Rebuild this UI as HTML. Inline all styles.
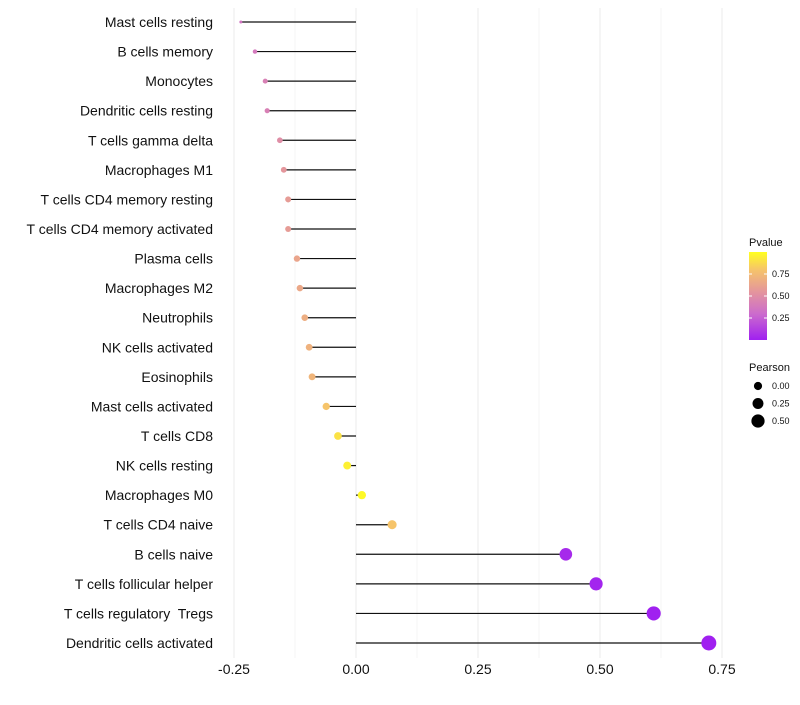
<!DOCTYPE html>
<html><head><meta charset="utf-8"><style>
body{margin:0;background:#fff;font-family:"Liberation Sans",sans-serif}
</style></head><body>
<svg id="c" width="800" height="700" style="font-family:'Liberation Sans',sans-serif">
<defs><linearGradient id="pg" x1="0" y1="1" x2="0" y2="0">
<stop offset="0" stop-color="#a020f0"/><stop offset="0.3" stop-color="#cc6ccc"/><stop offset="0.55" stop-color="#e4969c"/><stop offset="0.8" stop-color="#f6c46a"/><stop offset="1" stop-color="#ffff20"/></linearGradient></defs>
</svg>
<script>
const categories=["Mast cells resting","B cells memory","Monocytes","Dendritic cells resting","T cells gamma delta","Macrophages M1","T cells CD4 memory resting","T cells CD4 memory activated","Plasma cells","Macrophages M2","Neutrophils","NK cells activated","Eosinophils","Mast cells activated","T cells CD8","NK cells resting","Macrophages M0","T cells CD4 naive","B cells naive","T cells follicular helper","T cells regulatory  Tregs","Dendritic cells activated"];
const pearson=[-0.236,-0.207,-0.186,-0.182,-0.156,-0.148,-0.139,-0.139,-0.121,-0.115,-0.105,-0.096,-0.090,-0.061,-0.037,-0.018,0.012,0.074,0.43,0.492,0.61,0.723];
const pvalue=[0.35,0.38,0.42,0.42,0.5,0.55,0.58,0.58,0.63,0.65,0.68,0.7,0.72,0.8,0.9,0.95,0.98,0.8,0.04,0.02,0.002,0.0001];
const xTicks=[-0.25,0,0.25,0.5,0.75];
const xTickLabels=["-0.25","0.00","0.25","0.50","0.75"];
const pTicks=[0.25,0.5,0.75];
const sizeTicks=[0,0.25,0.5];
const NS="http://www.w3.org/2000/svg",svg=document.getElementById('c');
function mk(t,a,txt){const e=document.createElementNS(NS,t);for(const k in a)e.setAttribute(k,a[k]);if(txt!=null)e.textContent=txt;svg.appendChild(e);return e;}
const X=v=>356+v*488;
const Y=i=>22+i*(621/21);
const pmin=Math.min(...pearson),pmax=Math.max(...pearson);
const R=v=>1.5+6*Math.pow(Math.max(0,(v-pmin)/(pmax-pmin)),0.6);
const stops=[[0,[160,32,240]],[0.3,[204,108,204]],[0.55,[228,150,156]],[0.8,[246,196,106]],[1,[255,255,32]]];
function col(p){for(let i=1;i<stops.length;i++){if(p<=stops[i][0]){const a=stops[i-1],b=stops[i],t=(p-a[0])/(b[0]-a[0]);return 'rgb('+a[1].map((c,j)=>Math.round(c+(b[1][j]-c)*t)).join(',')+')';}}return 'rgb(255,255,32)';}
for(let k=0;k<xTicks.length;k++){
 let g=mk('line',{x1:X(xTicks[k]),x2:X(xTicks[k]),y1:8,y2:658,stroke:'#ebebeb','stroke-width':1});
 
 if(k<xTicks.length-1){let m=mk('line',{x1:X((xTicks[k]+xTicks[k+1])/2),x2:X((xTicks[k]+xTicks[k+1])/2),y1:8,y2:658,stroke:'#f4f4f4','stroke-width':1});
 }
 let t=mk('text',{x:X(xTicks[k]),y:674,'text-anchor':'middle','font-size':14,fill:'#111'},xTickLabels[k]);
 
}
categories.forEach((c,i)=>{
 let t=mk('text',{x:213,y:Y(i)+5,'text-anchor':'end','font-size':14,fill:'#111'},c);
 t.setAttribute('xml:space','preserve');t.style.whiteSpace='pre';
 
 let l=mk('line',{x1:X(0),x2:X(pearson[i]),y1:Y(i),y2:Y(i),stroke:'#111','stroke-width':1.2});
 
 let d=mk('circle',{cx:X(pearson[i]),cy:Y(i),r:R(pearson[i]),fill:col(pvalue[i])});
 
});
let lt=mk('text',{x:749,y:246,'font-size':11,fill:'#111'},'Pvalue');
let cb=mk('rect',{x:749,y:252,width:18,height:88,fill:'url(#pg)'});
pTicks.forEach(p=>{const y=340-p*88;
 let tk=mk('line',{x1:749,x2:752,y1:y,y2:y,stroke:'#fff'});
 let tk2=mk('line',{x1:764,x2:767,y1:y,y2:y,stroke:'#fff'});
 let t=mk('text',{x:772,y:y+3,'font-size':9,fill:'#111'},p.toFixed(2));});
let st=mk('text',{x:749,y:371,'font-size':11,fill:'#111'},'Pearson');
sizeTicks.forEach((s,k)=>{const y=386+k*17.5;
 let c=mk('circle',{cx:758,cy:y,r:R(s),fill:'#000'});
 let t=mk('text',{x:772,y:y+3,'font-size':9,fill:'#111'},s.toFixed(2));});
</script>
</body></html>
